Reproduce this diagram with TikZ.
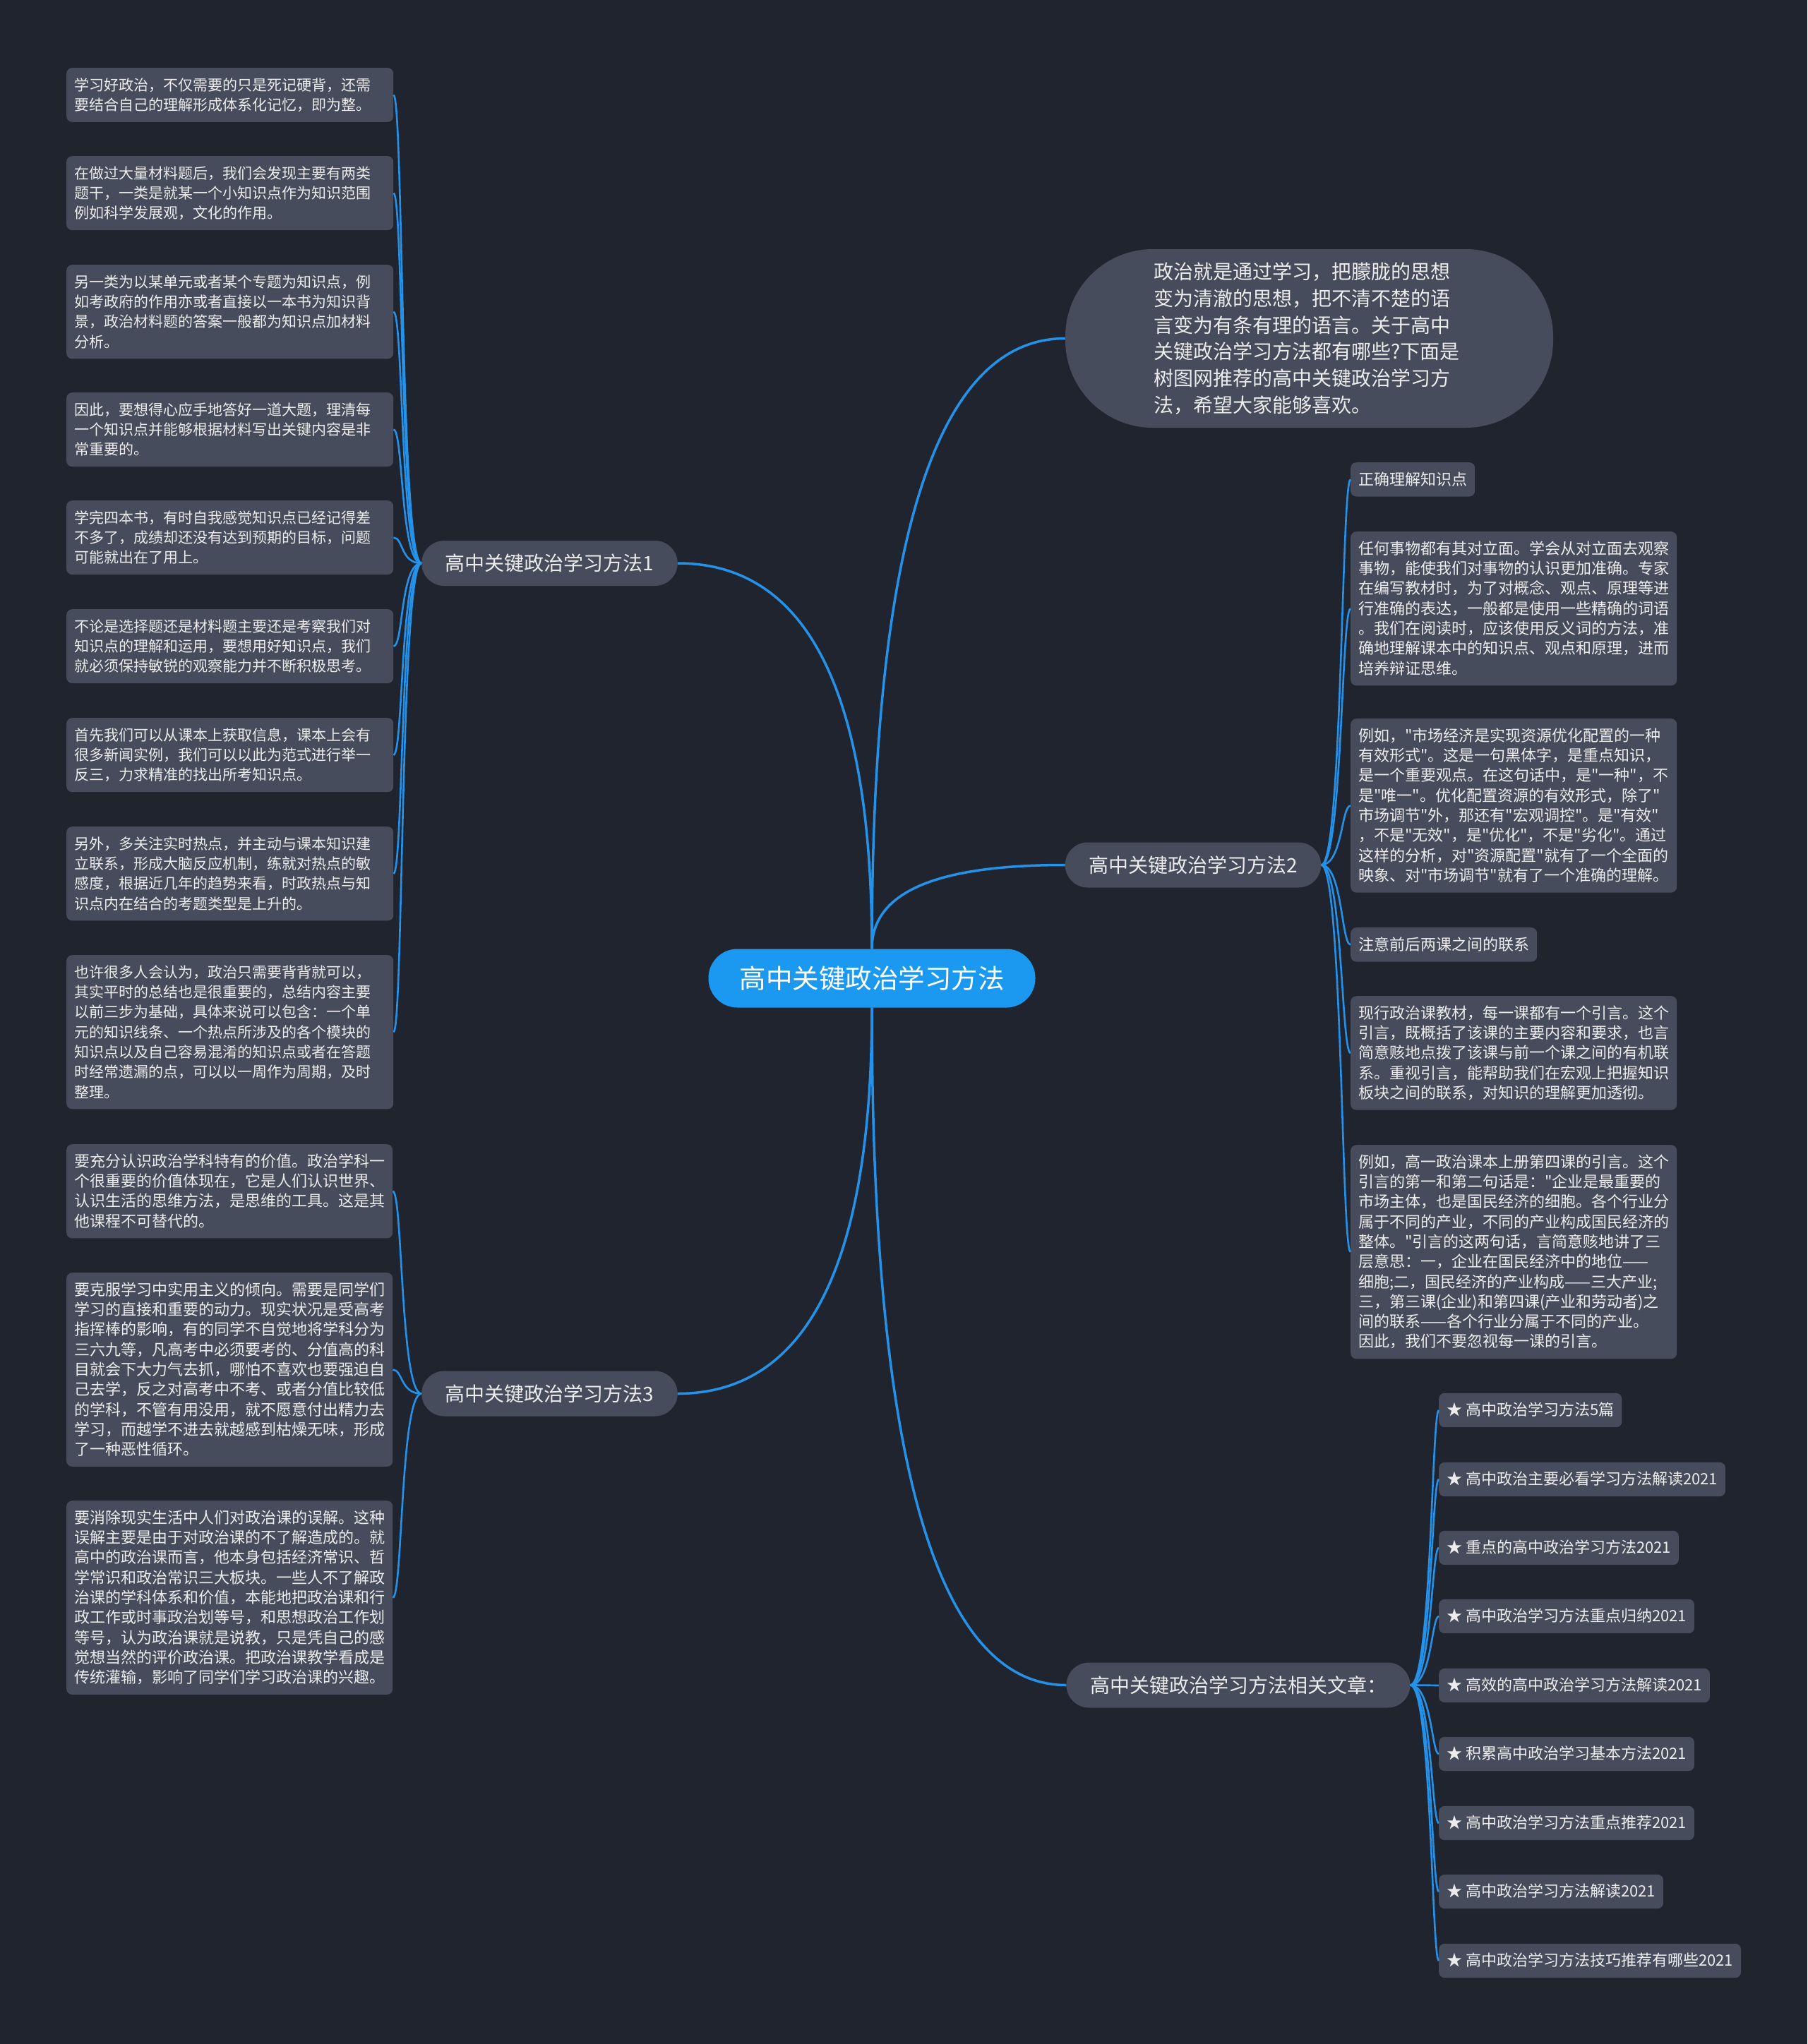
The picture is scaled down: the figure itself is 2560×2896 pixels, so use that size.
\documentclass[tikz,border=0pt]{standalone}
\usepackage{fontspec}
\newfontfamily\cjk{Noto Sans CJK SC}
\definecolor{bgc}{RGB}{32,36,47}
\definecolor{boxc}{RGB}{70,76,91}
\definecolor{rootc}{RGB}{27,153,240}
\definecolor{linec}{RGB}{36,146,232}
\definecolor{txt}{RGB}{236,236,236}
\newcommand\lstrut{\rule[-0.22\baselineskip]{0pt}{\baselineskip}}

\begin{document}
\begin{tikzpicture}[x=1pt,y=-1pt,
  root/.style={fill=rootc,text=white,rounded corners=41pt,minimum height=83pt,inner xsep=44pt,font=\cjk\fontsize{37.5}{40}\selectfont},
  branch/.style={fill=boxc,text=txt,rounded corners=32pt,minimum height=64pt,inner xsep=33.5pt,font=\cjk\fontsize{28}{30}\selectfont},
  intro/.style={fill=boxc,text=txt,rounded corners=124pt,minimum width=691pt,minimum height=253pt,text width=440pt,align=left,font=\cjk\fontsize{28}{37.7}\selectfont,execute at begin node=\lstrut,execute at end node=\lstrut},
  leaf/.style={fill=boxc,text=txt,rounded corners=8pt,inner xsep=11pt,inner ysep=10pt,anchor=north west,align=left,font=\cjk\fontsize{22}{28.3}\selectfont,execute at begin node=\lstrut,execute at end node=\lstrut},
  wide/.style={leaf,text width=440pt},
  widea/.style={wide,text width=441pt,font=\cjk\fontsize{21}{28.3}\selectfont},
  link/.style={draw=linec,line width=3.5pt},
  sub/.style={draw=linec,line width=2.6pt}]
\path[use as bounding box,fill=bgc] (0,0) rectangle (2560,2896);

% centre and main branches
\node[root] (c) at (1235,1386) {高中关键政治学习方法};
\node[intro] (i) at (1854.5,479.5) {政治就是通过学习，把朦胧的思想\\变为清澈的思想，把不清不楚的语\\言变为有条有理的语言。关于高中\\关键政治学习方法都有哪些?下面是\\树图网推荐的高中关键政治学习方\\法，希望大家能够喜欢。};
\node[branch] (b1) at (778.5,798) {高中关键政治学习方法1};
\node[branch] (b2) at (1690,1225.5) {高中关键政治学习方法2};
\node[branch] (b3) at (778.5,1974.5) {高中关键政治学习方法3};
\node[branch] (b4) at (1754,2387.5) {高中关键政治学习方法相关文章：};

% method 1
\node[widea] (l1) at (94,96) {学习好政治，不仅需要的只是死记硬背，还需\\要结合自己的理解形成体系化记忆，即为整。};
\node[widea] (l2) at (94,221) {在做过大量材料题后，我们会发现主要有两类\\题干，一类是就某一个小知识点作为知识范围\\例如科学发展观，文化的作用。};
\node[widea] (l3) at (94,375) {另一类为以某单元或者某个专题为知识点，例\\如考政府的作用亦或者直接以一本书为知识背\\景，政治材料题的答案一般都为知识点加材料\\分析。};
\node[widea] (l4) at (94,556) {因此，要想得心应手地答好一道大题，理清每\\一个知识点并能够根据材料写出关键内容是非\\常重要的。};
\node[widea] (l5) at (94,709) {学完四本书，有时自我感觉知识点已经记得差\\不多了，成绩却还没有达到预期的目标，问题\\可能就出在了用上。};
\node[widea] (l6) at (94,863) {不论是选择题还是材料题主要还是考察我们对\\知识点的理解和运用，要想用好知识点，我们\\就必须保持敏锐的观察能力并不断积极思考。};
\node[widea] (l7) at (94,1017) {首先我们可以从课本上获取信息，课本上会有\\很多新闻实例，我们可以以此为范式进行举一\\反三，力求精准的找出所考知识点。};
\node[widea] (l8) at (94,1171) {另外，多关注实时热点，并主动与课本知识建\\立联系，形成大脑反应机制，练就对热点的敏\\感度，根据近几年的趋势来看，时政热点与知\\识点内在结合的考题类型是上升的。};
\node[widea] (l9) at (94,1353) {也许很多人会认为，政治只需要背背就可以，\\其实平时的总结也是很重要的，总结内容主要\\以前三步为基础，具体来说可以包含：一个单\\元的知识线条、一个热点所涉及的各个模块的\\知识点以及自己容易混淆的知识点或者在答题\\时经常遗漏的点，可以以一周作为周期，及时\\整理。};

% method 3
\node[wide] (m1) at (94,1621) {要充分认识政治学科特有的价值。政治学科一\\个很重要的价值体现在，它是人们认识世界、\\认识生活的思维方法，是思维的工具。这是其\\他课程不可替代的。};
\node[wide] (m2) at (94,1803) {要克服学习中实用主义的倾向。需要是同学们\\学习的直接和重要的动力。现实状况是受高考\\指挥棒的影响，有的同学不自觉地将学科分为\\三六九等，凡高考中必须要考的、分值高的科\\目就会下大力气去抓，哪怕不喜欢也要强迫自\\己去学，反之对高考中不考、或者分值比较低\\的学科，不管有用没用，就不愿意付出精力去\\学习，而越学不进去就越感到枯燥无味，形成\\了一种恶性循环。};
\node[wide] (m3) at (94,2126) {要消除现实生活中人们对政治课的误解。这种\\误解主要是由于对政治课的不了解造成的。就\\高中的政治课而言，他本身包括经济常识、哲\\学常识和政治常识三大板块。一些人不了解政\\治课的学科体系和价值，本能地把政治课和行\\政工作或时事政治划等号，和思想政治工作划\\等号，认为政治课就是说教，只是凭自己的感\\觉想当然的评价政治课。把政治课教学看成是\\传统灌输，影响了同学们学习政治课的兴趣。};

% method 2
\node[leaf] (r1) at (1913,655) {正确理解知识点};
\node[wide] (r2) at (1913,753) {任何事物都有其对立面。学会从对立面去观察\\事物，能使我们对事物的认识更加准确。专家\\在编写教材时，为了对概念、观点、原理等进\\行准确的表达，一般都是使用一些精确的词语\\。我们在阅读时，应该使用反义词的方法，准\\确地理解课本中的知识点、观点和原理，进而\\培养辩证思维。};
\node[wide] (r3) at (1913,1018) {例如，"市场经济是实现资源优化配置的一种\\有效形式"。这是一句黑体字，是重点知识，\\是一个重要观点。在这句话中，是"一种"，不\\是"唯一"。优化配置资源的有效形式，除了"\\市场调节"外，那还有"宏观调控"。是"有效"\\，不是"无效"，是"优化"，不是"劣化"。通过\\这样的分析，对"资源配置"就有了一个全面的\\映象、对"市场调节"就有了一个准确的理解。};
\node[leaf] (r4) at (1913,1314) {注意前后两课之间的联系};
\node[wide] (r5) at (1913,1411) {现行政治课教材，每一课都有一个引言。这个\\引言，既概括了该课的主要内容和要求，也言\\简意赅地点拨了该课与前一个课之间的有机联\\系。重视引言，能帮助我们在宏观上把握知识\\板块之间的联系，对知识的理解更加透彻。};
\node[wide] (r6) at (1913,1622) {例如，高一政治课本上册第四课的引言。这个\\引言的第一和第二句话是："企业是最重要的\\市场主体，也是国民经济的细胞。各个行业分\\属于不同的产业，不同的产业构成国民经济的\\整体。"引言的这两句话，言简意赅地讲了三\\层意思：一，企业在国民经济中的地位——\\细胞;二，国民经济的产业构成——三大产业;\\三，第三课(企业)和第四课(产业和劳动者)之\\间的联系——各个行业分属于不同的产业。\\因此，我们不要忽视每一课的引言。};

% related articles
\node[leaf,anchor=west] (a1) at (2038,1998) {★ 高中政治学习方法5篇};
\node[leaf,anchor=west] (a2) at (2038,2096) {★ 高中政治主要必看学习方法解读2021};
\node[leaf,anchor=west] (a3) at (2038,2193) {★ 重点的高中政治学习方法2021};
\node[leaf,anchor=west] (a4) at (2038,2290) {★ 高中政治学习方法重点归纳2021};
\node[leaf,anchor=west] (a5) at (2038,2388) {★ 高效的高中政治学习方法解读2021};
\node[leaf,anchor=west] (a6) at (2038,2485) {★ 积累高中政治学习基本方法2021};
\node[leaf,anchor=west] (a7) at (2038,2583) {★ 高中政治学习方法重点推荐2021};
\node[leaf,anchor=west] (a8) at (2038,2680) {★ 高中政治学习方法解读2021};
\node[leaf,anchor=west] (a9) at (2038,2778) {★ 高中政治学习方法技巧推荐有哪些2021};

% connectors
\draw[link] (c.north) .. controls +(0,-577) and +(-183,0) .. (i.west);
\draw[link] (c.north) .. controls +(0,-365) and +(183,0) .. (b1.east);
\draw[link] (c.north) .. controls +(0,-80) and +(-184,0) .. (b2.west);
\draw[link] (c.south) .. controls +(0,364) and +(183,0) .. (b3.east);
\draw[link] (c.south) .. controls +(0,640) and +(-184,0) .. (b4.west);

\draw[sub] (b1.west) .. controls +(-30,0) and +(14,0) .. (l1.east);
\draw[sub] (b1.west) .. controls +(-30,0) and +(14,0) .. (l2.east);
\draw[sub] (b1.west) .. controls +(-30,0) and +(14,0) .. (l3.east);
\draw[sub] (b1.west) .. controls +(-30,0) and +(14,0) .. (l4.east);
\draw[sub] (b1.west) .. controls +(-30,0) and +(14,0) .. (l5.east);
\draw[sub] (b1.west) .. controls +(-30,0) and +(14,0) .. (l6.east);
\draw[sub] (b1.west) .. controls +(-30,0) and +(14,0) .. (l7.east);
\draw[sub] (b1.west) .. controls +(-30,0) and +(14,0) .. (l8.east);
\draw[sub] (b1.west) .. controls +(-30,0) and +(14,0) .. (l9.east);

\draw[sub] (b3.west) .. controls +(-30,0) and +(14,0) .. (m1.east);
\draw[sub] (b3.west) .. controls +(-30,0) and +(14,0) .. (m2.east);
\draw[sub] (b3.west) .. controls +(-30,0) and +(14,0) .. (m3.east);

\draw[sub] (b2.east) .. controls +(30,0) and +(-13,0) .. (r1.west);
\draw[sub] (b2.east) .. controls +(30,0) and +(-13,0) .. (r2.west);
\draw[sub] (b2.east) .. controls +(30,0) and +(-13,0) .. (r3.west);
\draw[sub] (b2.east) .. controls +(30,0) and +(-13,0) .. (r4.west);
\draw[sub] (b2.east) .. controls +(30,0) and +(-13,0) .. (r5.west);
\draw[sub] (b2.east) .. controls +(30,0) and +(-13,0) .. (r6.west);

\draw[sub] (b4.east) .. controls +(30,0) and +(-10,0) .. (a1.west);
\draw[sub] (b4.east) .. controls +(30,0) and +(-10,0) .. (a2.west);
\draw[sub] (b4.east) .. controls +(30,0) and +(-10,0) .. (a3.west);
\draw[sub] (b4.east) .. controls +(30,0) and +(-10,0) .. (a4.west);
\draw[sub] (b4.east) .. controls +(30,0) and +(-10,0) .. (a5.west);
\draw[sub] (b4.east) .. controls +(30,0) and +(-10,0) .. (a6.west);
\draw[sub] (b4.east) .. controls +(30,0) and +(-10,0) .. (a7.west);
\draw[sub] (b4.east) .. controls +(30,0) and +(-10,0) .. (a8.west);
\draw[sub] (b4.east) .. controls +(30,0) and +(-10,0) .. (a9.west);
\end{tikzpicture}
\end{document}
